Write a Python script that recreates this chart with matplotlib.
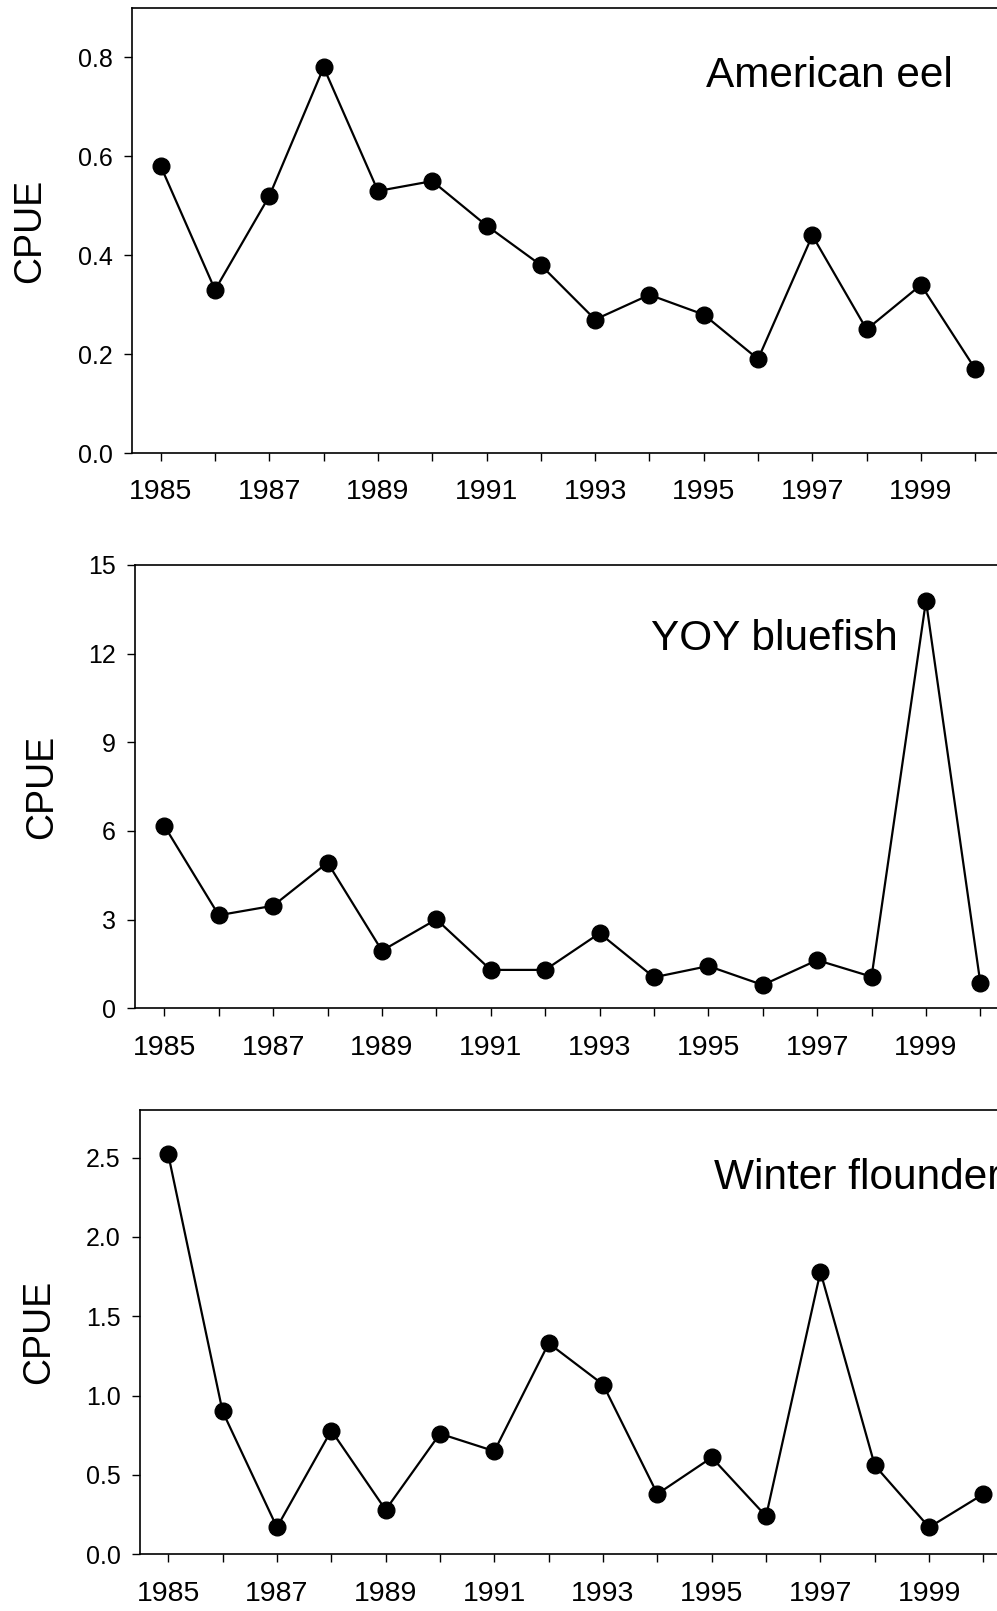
import numpy as np
import matplotlib
matplotlib.use("Agg")
import matplotlib.pyplot as plt
from matplotlib.ticker import FormatStrFormatter, MultipleLocator

plt.rcParams["font.family"] = ["Liberation Sans", "DejaVu Sans"]

# Данные
years = np.arange(1985, 2001)
eel = [0.58, 0.33, 0.52, 0.78, 0.53, 0.55, 0.46, 0.38,
       0.27, 0.32, 0.28, 0.19, 0.44, 0.25, 0.34, 0.17]
bluefish = [6.17, 3.15, 3.47, 4.93, 1.95, 3.01, 1.30, 1.30,
            2.54, 1.05, 1.43, 0.79, 1.63, 1.07, 13.79, 0.85]
flounder = [2.52, 0.90, 0.17, 0.78, 0.28, 0.76, 0.65, 1.33,
            1.07, 0.38, 0.61, 0.24, 1.78, 0.56, 0.17, 0.38]

names = ["American eel", "YOY bluefish", "Winter flounder"]
series = [eel, bluefish, flounder]
y_ticks = [[0.0, 0.2, 0.4, 0.6, 0.8], [0, 3, 6, 9, 12, 15], [0.0, 0.5, 1.0, 1.5, 2.0, 2.5]]
y_lims = [(0, 0.9), (0, 15), (0, 2.8)]
y_fmt = ["%.1f", "%d", "%.1f"]

# Положение осей (доли фигуры), правый край уходит за пределы картинки
boxes = [
    [0.1324, 0.7188, 0.873, 0.2762],
    [0.1354, 0.3741, 0.8752, 0.2752],
    [0.1404, 0.0352, 0.8733, 0.2758],
]
xlefts = [1984.47, 1984.46, 1984.48]
label_pos = [(0.801, 0.822, "center"), (0.733, 0.808, "center"), (0.659, 0.8215, "left")]
ylabel_x = [30, 42, 39]

fig = plt.figure(figsize=(9.97, 16.11), dpi=100)

for i in range(3):
    ax = fig.add_axes(boxes[i])
    ax.plot(years, series[i], color="black", linewidth=1.6,
            marker="o", markersize=12, clip_on=False)
    ax.set_xlim(xlefts[i], 2000.5)
    ax.set_ylim(*y_lims[i])
    ax.set_yticks(y_ticks[i])
    ax.yaxis.set_major_formatter(FormatStrFormatter(y_fmt[i]))
    ax.xaxis.set_major_locator(MultipleLocator(2, offset=1))
    ax.xaxis.set_minor_locator(MultipleLocator(1))
    ax.xaxis.set_major_formatter(FormatStrFormatter("%d"))
    ax.tick_params(axis="both", which="both", direction="out", length=6, width=1.0)
    ax.tick_params(axis="y", labelsize=18, pad=8)
    ax.tick_params(axis="x", labelsize=20.5, pad=13)
    for s in ax.spines.values():
        s.set_linewidth(1.2)

    fx, fy, ha = label_pos[i]
    ax.text(fx, fy, names[i], transform=ax.transAxes, fontsize=30.5,
            ha=ha, va="baseline")

    # подпись оси Y в пикселях фигуры
    b = boxes[i]
    fig.text(ylabel_x[i] / 997, b[1] + b[3] / 2, "CPUE", rotation=90,
             fontsize=27, ha="center", va="center")

fig.savefig("out.png", dpi=100)
